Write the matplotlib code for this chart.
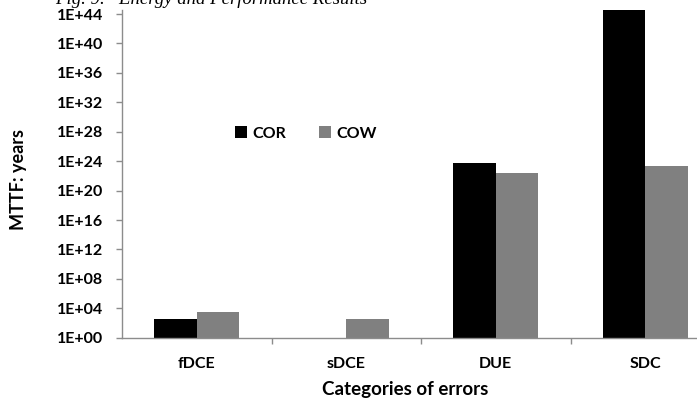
import numpy as np
import matplotlib
matplotlib.use("Agg")
import matplotlib.pyplot as plt
from matplotlib.patches import Patch

categories = ["fDCE", "sDCE", "DUE", "SDC"]
cor_values = [4.0e2, 1.0, 6.0e23, 1.0e45]
cow_values = [3.5e3, 4.0e2, 2.5e22, 2.5e23]
series_names = ["COR", "COW"]
ytick_exps = [0, 4, 8, 12, 16, 20, 24, 28, 32, 36, 40, 44]
ytick_labels = ["1E+%02d" % e for e in ytick_exps]

FONT = ["Lato", "DejaVu Sans"]
W, H = 697, 400
fig = plt.figure(figsize=(W / 100, H / 100), dpi=100)

left = 122 / W
right = 720 / W
bottom = (H - 337.7) / H
top = (H - 10.0) / H
ax = fig.add_axes([left, bottom, right - left, top - bottom])

x = np.arange(len(categories))
bw = 0.285
ax.bar(x - bw / 2, cor_values, bw, color="#000000", edgecolor="none", zorder=3)
ax.bar(x + bw / 2, cow_values, bw, color="#808080", edgecolor="none", zorder=3)

ax.set_yscale("log")
ax.set_ylim(1, 10 ** 44.55)
ax.set_xlim(-0.5, len(categories) - 0.5)

ax.set_yticks([10.0 ** e for e in ytick_exps])
ax.set_yticklabels(ytick_labels)
ax.yaxis.set_minor_locator(matplotlib.ticker.NullLocator())
ax.set_xticks(x)
ax.set_xticklabels(categories)
ax.set_xticks(np.arange(len(categories) - 1) + 0.5, minor=True)

for s in ["top", "right"]:
    ax.spines[s].set_visible(False)
for s in ["left", "bottom"]:
    ax.spines[s].set_color("#8c8c8c")
    ax.spines[s].set_linewidth(1.0)
    ax.spines[s].set_zorder(4)

ax.tick_params(axis="y", which="major", length=4.5, width=1, color="#8c8c8c", pad=9)
ax.tick_params(axis="x", which="major", length=0, pad=14)
ax.tick_params(axis="x", which="minor", length=4.5, width=1, color="#8c8c8c")
for lab in ax.get_yticklabels() + ax.get_xticklabels():
    lab.set_fontfamily(FONT)
    lab.set_fontweight("bold")
    lab.set_fontsize(11.5)

fig.text(19 / W, 1 - 180 / H, "MTTF: years", rotation=90, ha="center", va="center",
         fontsize=13, fontweight="bold", family=FONT)
fig.text(405 / W, 1 - 389 / H, "Categories of errors", ha="center", va="center",
         fontsize=13.5, fontweight="bold", family=FONT)

handles = [Patch(facecolor="#000000", edgecolor="none"),
           Patch(facecolor="#808080", edgecolor="none")]
leg = ax.legend(handles, series_names, loc="center left",
                bbox_to_anchor=((229 - 122) / (720 - 122), (337.7 - 133.5) / (337.7 - 10.0)),
                ncol=2, frameon=False, handlelength=0.75, handleheight=0.75,
                handletextpad=0.3, columnspacing=2.1, borderaxespad=0,
                prop={"family": FONT, "weight": "bold", "size": 11.5})

fig.text(367 / W, 1 - 4 / H, "Fig. 9.   Energy and Performance Results", ha="right",
         va="baseline", fontsize=13.5, style="italic", family=["Liberation Serif", "DejaVu Serif"])

fig.savefig("out.png", dpi=100)
